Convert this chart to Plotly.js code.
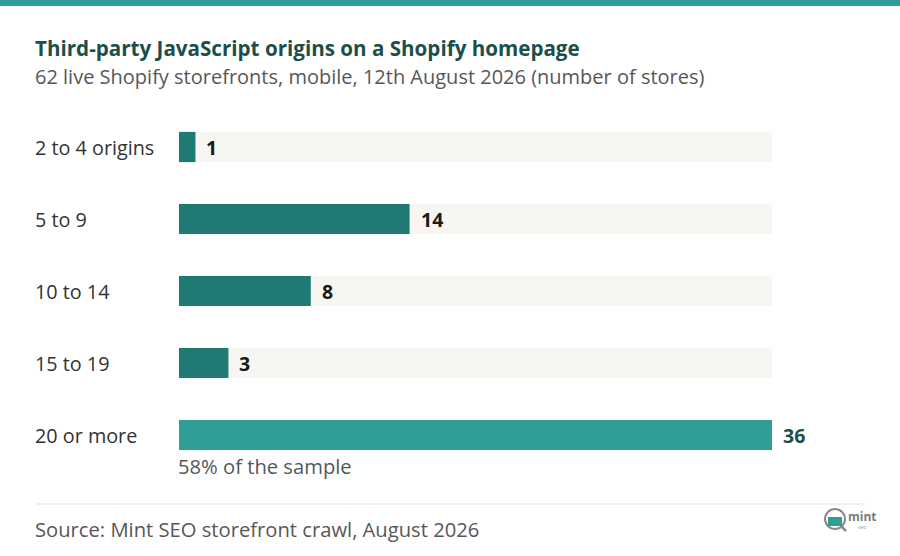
<!DOCTYPE html>
<html>
<head>
<meta charset="utf-8">
<script src="https://cdn.plot.ly/plotly-3.0.1.min.js"></script>
<style>
  html, body { margin: 0; padding: 0; background: #ffffff; }
  #chart { width: 900px; height: 556px; }
</style>
</head>
<body>
<div id="chart"></div>
<script>
/* Third-party JS origins on Shopify homepages — horizontal bars with a light track */

var categories = ['2 to 4 origins', '5 to 9', '10 to 14', '15 to 19', '20 or more'];
var stores     = [1, 14, 8, 3, 36];
var highlight  = '20 or more';
var noteText   = '58% of the sample';

var C = {
  band:    '#2e9e96',
  bar:     '#1f7a74',
  barHi:   '#2e9e96',
  track:   '#f8f6f2',
  title:   '#1d4f4a',
  text:    '#333333',
  muted:   '#575757',
  value:   '#1a1a1a',
  rule:    '#e6e0cf'
};
var FONT = '"Open Sans", Lato, sans-serif';

// pixel helpers: plot area is 179..772 (x) and 111..471 (y)
var L = 179, R = 772, T = 111, B = 471;
function px(x) { return (x - L) / (R - L); }
function py(y) { return (B - y) / (B - T); }

var maxVal = Math.max.apply(null, stores);

var track = {
  type: 'bar', orientation: 'h',
  y: categories,
  x: categories.map(function () { return maxVal; }),
  width: 0.42,
  marker: { color: C.track },
  hoverinfo: 'skip'
};

var bars = {
  type: 'bar', orientation: 'h',
  y: categories,
  x: stores,
  width: 0.42,
  marker: { color: categories.map(function (c) { return c === highlight ? C.barHi : C.bar; }) },
  hovertemplate: '%{y}: %{x}<extra></extra>'
};

var annotations = [];

// category labels, left aligned
categories.forEach(function (c) {
  annotations.push({
    xref: 'paper', yref: 'y', x: px(36), y: c, xshift: -3,
    xanchor: 'left', yanchor: 'middle', showarrow: false,
    text: c, font: { family: FONT, size: 19.8, color: C.text }
  });
});

// value labels
categories.forEach(function (c, i) {
  annotations.push({
    xref: 'x', yref: 'y', x: stores[i], y: c,
    xanchor: 'left', yanchor: 'middle', xshift: 9, showarrow: false,
    text: '<b>' + stores[i] + '</b>',
    font: { family: FONT, size: 19.5, color: c === highlight ? C.title : C.value }
  });
});

annotations.push(
  { xref: 'paper', yref: 'paper', x: px(36), y: py(48), xshift: -3, xanchor: 'left', yanchor: 'middle', showarrow: false,
    text: '<b>Third-party JavaScript origins on a Shopify homepage</b>',
    font: { family: FONT, size: 20.6, color: C.title } },
  { xref: 'paper', yref: 'paper', x: px(36), y: py(77), xshift: -3, xanchor: 'left', yanchor: 'middle', showarrow: false,
    text: '62 live Shopify storefronts, mobile, 12th August 2026 (number of stores)',
    font: { family: FONT, size: 20, color: C.muted } },
  { xref: 'paper', yref: 'paper', x: px(179), y: py(466), xshift: -3, xanchor: 'left', yanchor: 'middle', showarrow: false,
    text: noteText, font: { family: FONT, size: 20.2, color: C.muted } },
  { xref: 'paper', yref: 'paper', x: px(36), y: py(529), xshift: -3, xanchor: 'left', yanchor: 'middle', showarrow: false,
    text: 'Source: Mint SEO storefront crawl, August 2026',
    font: { family: FONT, size: 20.2, color: C.muted } },
  { xref: 'paper', yref: 'paper', x: px(846), y: py(516), xanchor: 'left', yanchor: 'middle', showarrow: false,
    text: '<b>mint</b>', font: { family: FONT, size: 12, color: '#7a7a7a' } },
  { xref: 'paper', yref: 'paper', x: px(862), y: py(527), xanchor: 'center', yanchor: 'middle', showarrow: false,
    text: 'seo', font: { family: FONT, size: 5, color: '#9a9a9a' } }
);

var shapes = [
  // top band
  { type: 'rect', xref: 'paper', yref: 'paper', x0: px(0), x1: px(900), y0: py(0), y1: py(6),
    fillcolor: C.band, line: { width: 0 }, layer: 'above' },
  // footer rule
  { type: 'line', xref: 'paper', yref: 'paper', x0: px(36), x1: px(865), y0: py(504), y1: py(504),
    line: { color: C.rule, width: 1.2 } },
  // logo: magnifier
  { type: 'line', xref: 'paper', yref: 'paper', x0: px(840), x1: px(846), y0: py(525), y1: py(531),
    line: { color: '#8a8a8a', width: 2.5 } },
  { type: 'circle', xref: 'paper', yref: 'paper', x0: px(825), x1: px(845), y0: py(509), y1: py(529),
    fillcolor: '#ffffff', line: { color: '#8a8a8a', width: 2 } },
  { type: 'rect', xref: 'paper', yref: 'paper', x0: px(828), x1: px(842), y0: py(517), y1: py(526),
    fillcolor: C.band, line: { width: 0 } }
];

var layout = {
  width: 900, height: 556,
  paper_bgcolor: '#ffffff', plot_bgcolor: '#ffffff',
  margin: { l: L, r: 900 - R, t: T, b: 556 - B, pad: 0 },
  barmode: 'overlay',
  showlegend: false,
  font: { family: FONT, color: C.text },
  xaxis: { range: [0, maxVal], showgrid: false, zeroline: false, showticklabels: false,
           showline: false, ticks: '', fixedrange: true },
  yaxis: { type: 'category', range: [categories.length - 0.5, -0.5], showgrid: false, zeroline: false,
           showticklabels: false, showline: false, ticks: '', fixedrange: true },
  annotations: annotations,
  shapes: shapes
};

Plotly.newPlot('chart', [track, bars], layout, { displayModeBar: false, staticPlot: true });
</script>
</body>
</html>
